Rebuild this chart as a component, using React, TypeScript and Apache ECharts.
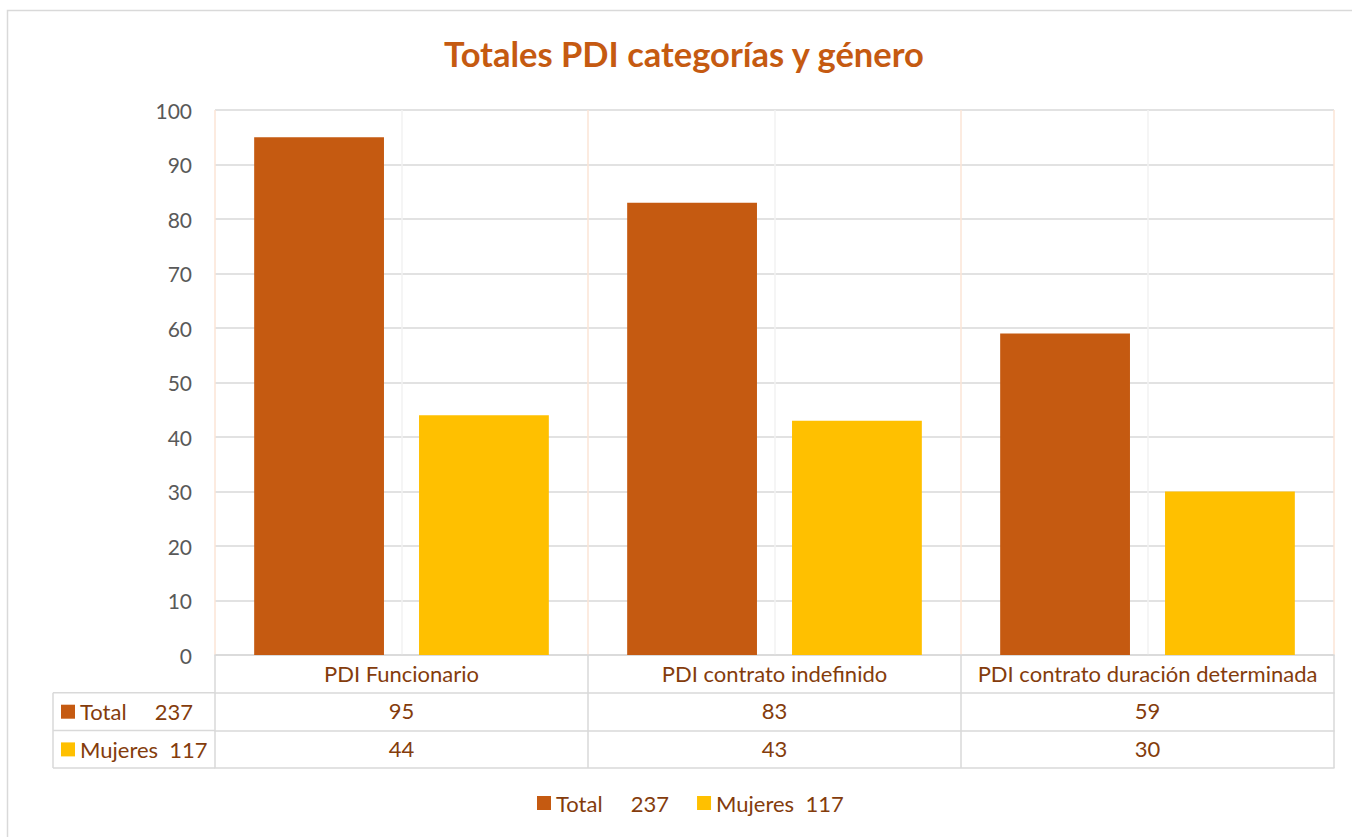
import React, { useEffect, useRef } from "react";
import * as echarts from "echarts";

const categories = ["PDI Funcionario", "PDI contrato indefinido", "PDI contrato duración determinada"];
const seriesNames = ["Total", "Mujeres"];
const totalValues = [95, 83, 59];
const mujeresValues = [44, 43, 30];
const yTicks = { min: 0, max: 100, interval: 10 };
const titleText = "Totales PDI categorías y género";

const FONT = "Lato, 'Open Sans', sans-serif";
const BROWN = "#843C0C";
const GRID_GRAY = "#D9D9D9";
const COLORS = ["#C55A11", "#FFC000"];

const sum = (a: number[]) => a.reduce((s, v) => s + v, 0);
const totalSum = sum(totalValues);
const mujeresSum = sum(mujeresValues);
const nb = (n: number) => "\u00A0".repeat(n);
const labelFor = (name: string) =>
  name === seriesNames[0] ? `${name}${nb(5)}${totalSum}` : `${name}${nb(2)}${mujeresSum}`;

const GL = 215, GT = 110, GW = 1119, GH = 545;
const ROW = 37.7;

export default function App() {
  const ref = useRef<HTMLDivElement>(null);
  useEffect(() => {
    if (!ref.current) return;
    const chart = echarts.init(ref.current, undefined, { renderer: "svg" });
    const bottom = GT + GH;
    const labelStyle = {
      fontFamily: FONT,
      fontSize: 22,
      color: BROWN,
      margin: 7,
      interval: 0,
      hideOverlap: false,
    };
    chart.setOption({
      animation: false,
      backgroundColor: "#ffffff",
      title: {
        text: titleText,
        left: 679,
        top: 31,
        textAlign: "center",
        textStyle: { fontFamily: FONT, fontSize: 34.5, fontWeight: "bold", color: "#C55A11" },
      },
      legend: {
        left: 537,
        top: 792,
        padding: 0,
        itemWidth: 14,
        itemHeight: 14,
        itemGap: 28,
        icon: "rect",
        data: seriesNames,
        formatter: (n: string) => labelFor(n),
        textStyle: { fontFamily: FONT, fontSize: 22, color: BROWN },
      },
      grid: { left: GL, top: GT, width: GW, height: GH, containLabel: false },
      yAxis: {
        type: "value",
        min: yTicks.min,
        max: yTicks.max,
        interval: yTicks.interval,
        axisLine: { show: false },
        axisTick: { show: false },
        axisLabel: { fontFamily: FONT, fontSize: 21, color: "#595959", margin: 23 },
        splitLine: { lineStyle: { color: GRID_GRAY, width: 1.5 } },
      },
      xAxis: [
        {
          type: "category",
          data: categories,
          position: "bottom",
          axisLine: { show: true, lineStyle: { color: GRID_GRAY, width: 1.5 } },
          axisTick: { show: true, interval: 0, length: ROW * 3, lineStyle: { color: GRID_GRAY, width: 1.5 } },
          axisLabel: labelStyle,
          splitLine: { show: false },
        },
        {
          type: "category",
          data: totalValues.map(String),
          position: "bottom",
          offset: ROW,
          axisLine: { show: true, lineStyle: { color: GRID_GRAY, width: 1.5 } },
          axisTick: { show: false },
          axisLabel: labelStyle,
        },
        {
          type: "category",
          data: mujeresValues.map(String),
          position: "bottom",
          offset: ROW * 2,
          axisLine: { show: true, lineStyle: { color: GRID_GRAY, width: 1.5 } },
          axisTick: { show: false },
          axisLabel: labelStyle,
        },
        {
          type: "category",
          data: categories,
          position: "bottom",
          offset: ROW * 3,
          axisLine: { show: true, lineStyle: { color: GRID_GRAY, width: 1.5 } },
          axisTick: { show: false },
          axisLabel: { show: false },
        },
        {
          type: "value",
          min: 0,
          max: categories.length,
          interval: 0.5,
          position: "top",
          axisLine: { show: false },
          axisTick: { show: false },
          axisLabel: { show: false },
          splitLine: { show: true, lineStyle: { color: ["#FBE5D6", "#F2F2F2"], width: 1.5 } },
        },
      ],
      series: [
        {
          name: seriesNames[0],
          type: "bar",
          xAxisIndex: 0,
          data: totalValues,
          barCategoryGap: "21%",
          barGap: "27%",
          itemStyle: { color: COLORS[0] },
        },
        {
          name: seriesNames[1],
          type: "bar",
          xAxisIndex: 0,
          data: mujeresValues,
          barCategoryGap: "21%",
          barGap: "27%",
          itemStyle: { color: COLORS[1] },
        },
      ],
      graphic: [
        {
          type: "rect",
          silent: true,
          shape: { x: 7.5, y: 10.5, width: 1500, height: 1000 },
          style: { fill: "none", stroke: GRID_GRAY, lineWidth: 1.5 },
        },
        ...[1, 2, 3].map((i) => ({
          type: "line",
          silent: true,
          shape: { x1: 53, y1: bottom + ROW * i, x2: GL, y2: bottom + ROW * i },
          style: { stroke: GRID_GRAY, lineWidth: 1.5 },
        })),
        {
          type: "line",
          silent: true,
          shape: { x1: 53, y1: bottom + ROW, x2: 53, y2: bottom + ROW * 3 },
          style: { stroke: GRID_GRAY, lineWidth: 1.5 },
        },
        ...seriesNames.flatMap((n, i) => [
          {
            type: "rect",
            silent: true,
            shape: { x: 61, y: bottom + ROW * (i + 1) + 12, width: 14, height: 14 },
            style: { fill: COLORS[i] },
          },
          {
            type: "text",
            silent: true,
            x: 80,
            y: bottom + ROW * (i + 1.5),
            style: {
              text: labelFor(n),
              fontFamily: FONT,
              fontSize: 22,
              fill: BROWN,
              verticalAlign: "middle",
              align: "left",
            },
          },
        ]),
      ],
    });
    return () => chart.dispose();
  }, []);
  return (
    <div
      ref={ref}
      style={{ position: "absolute", left: 0, top: 0, width: 1352, height: 837 }}
    />
  );
}
